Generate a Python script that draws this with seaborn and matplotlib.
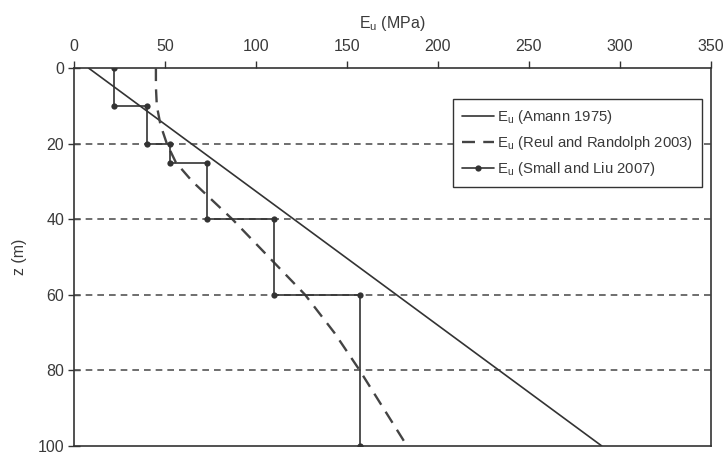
import matplotlib
matplotlib.use("Agg")
import matplotlib.pyplot as plt
import seaborn as sns
import pandas as pd

# Data
amann_z = [0, 100]
amann_e = [8, 290]

reul_z = [0, 5, 10, 15, 20, 25, 30, 35, 40, 50, 60, 70, 80, 90, 100]
reul_e = [45, 45, 45.5, 47.5, 51, 56, 65, 76, 87, 107, 127, 143, 157, 170, 183]

small_z = [0, 10, 10, 20, 20, 25, 25, 40, 40, 60, 60, 100]
small_e = [22, 22, 40, 40, 53, 53, 73, 73, 110, 110, 157, 157]

x_ticks = [0, 50, 100, 150, 200, 250, 300, 350]
y_ticks = [0, 20, 40, 60, 80, 100]
grid_z = [20, 40, 60, 80]

labels = [r"E$_\mathregular{u}$ (Amann 1975)",
          r"E$_\mathregular{u}$ (Reul and Randolph 2003)",
          r"E$_\mathregular{u}$ (Small and Liu 2007)"]

sns.set_theme(style="white")
plt.rcParams["font.family"] = ["Liberation Sans", "DejaVu Sans"]
plt.rcParams["mathtext.fontset"] = "custom"
plt.rcParams["mathtext.rm"] = "Liberation Sans"

ink = "#333333"
txt = "#3a3a3a"

fig = plt.figure(figsize=(7.26, 4.54), dpi=100)
ax = fig.add_axes([0.102, 0.018, 0.877, 0.832])

for gz in grid_z:
    ax.axhline(gz, color="#555555", lw=1.2, ls=(0, (4, 3)), zorder=1)

df_a = pd.DataFrame({"E": amann_e, "z": amann_z})
df_r = pd.DataFrame({"E": reul_e, "z": reul_z})
df_s = pd.DataFrame({"E": small_e, "z": small_z})

sns.lineplot(data=df_a, x="E", y="z", sort=False, estimator=None, ax=ax,
             color=ink, lw=1.2, label=labels[0], zorder=3)
sns.lineplot(data=df_r, x="E", y="z", sort=False, estimator=None, ax=ax,
             color="#444444", lw=1.7, ls=(0, (5.5, 3.5)), label=labels[1], zorder=3)
sns.lineplot(data=df_s, x="E", y="z", sort=False, estimator=None, ax=ax,
             color=ink, lw=1.2, marker="o", markersize=4.5, markeredgewidth=0,
             label=labels[2], zorder=4)

ax.set_xlim(0, 350)
ax.set_ylim(100, 0)
ax.set_xticks(x_ticks)
ax.set_yticks(y_ticks)
ax.xaxis.tick_top()
ax.xaxis.set_label_position("top")
ax.set_xlabel(r"E$_\mathregular{u}$ (MPa)", fontsize=11.5, color=txt, labelpad=8)
ax.set_ylabel("z (m)", fontsize=11.5, color=txt, labelpad=8)
ax.tick_params(axis="x", direction="out", length=5, width=1, color=ink,
               labelsize=11.5, labelcolor=txt, pad=5, top=True, bottom=False)
ax.tick_params(axis="y", direction="inout", length=8, width=1, color=ink,
               labelsize=11.5, labelcolor=txt, pad=3, left=True)
for s in ax.spines.values():
    s.set_color(ink)
    s.set_linewidth(1.2)

leg = ax.legend(loc="upper left", bbox_to_anchor=(0.595, 0.918), borderaxespad=0,
                fontsize=10.7, frameon=True, fancybox=False, edgecolor=ink,
                framealpha=1, handlelength=2.15, handletextpad=0.2,
                borderpad=0.6, labelspacing=0.55)
leg.get_frame().set_linewidth(1.0)
for t in leg.get_texts():
    t.set_color(txt)

fig.savefig("out.png", dpi=100)
